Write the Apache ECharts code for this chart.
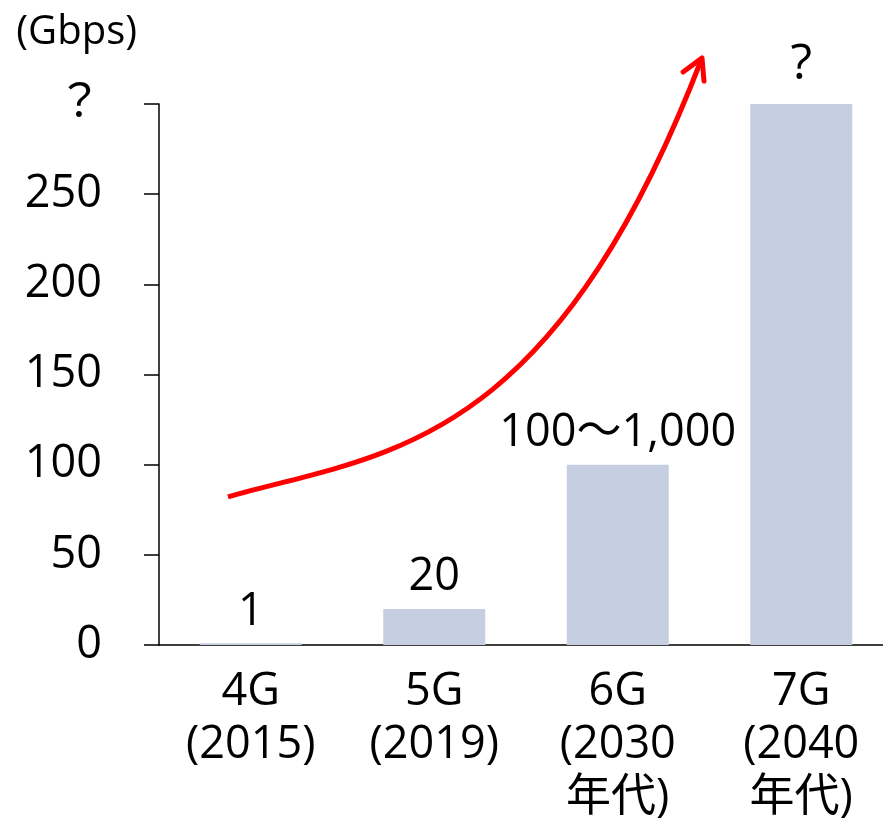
<!DOCTYPE html>
<html>
<head>
<meta charset="utf-8">
<script src="https://cdn.jsdelivr.net/npm/echarts@6/dist/echarts.min.js"></script>
<style>
  html, body { margin: 0; padding: 0; background: #ffffff; }
  #chart { width: 883px; height: 827px; }
</style>
</head>
<body>
<div id="chart"></div>
<script>
// Peak data rate by mobile generation (Gbps)
const categories = ['4G\n(2015)', '5G\n(2019)', '6G\n(2030\n年代)', '7G\n(2040\n年代)'];
const speeds = [1, 20, 100, 300];
const speedLabels = ['1', '20', '100～1,000', '?'];

// Growth trend arrow as a cubic Bézier, in (generation index, Gbps) units:
// start, control 1, control 2, end
const trendX = [0.376, 1.210, 2.125, 2.959];
const trendY = [82.1, 106.7, 104.9, 325.5];
// Arrow head: wing, tip, wing
const headX = [2.856, 2.959, 2.970];
const headY = [317.7, 325.5, 312.7];

const FONT = "'Open Sans', 'Noto Sans CJK JP', sans-serif";
const RED = '#ff0000';
const chart = echarts.init(document.getElementById('chart'), null, { renderer: 'canvas' });

function renderTrend(params, api) {
  const p = trendX.map((x, i) => api.coord([x, trendY[i]]));
  const head = headX.map((x, i) => api.coord([x, headY[i]]));
  return {
    type: 'group',
    children: [
      {
        type: 'bezierCurve',
        shape: {
          x1: p[0][0], y1: p[0][1],
          cpx1: p[1][0], cpy1: p[1][1],
          cpx2: p[2][0], cpy2: p[2][1],
          x2: p[3][0], y2: p[3][1]
        },
        style: { stroke: RED, lineWidth: 5, fill: null, lineCap: 'butt' }
      },
      {
        type: 'polyline',
        shape: { points: head },
        style: { stroke: RED, lineWidth: 5, fill: null, lineCap: 'round', lineJoin: 'round' }
      }
    ]
  };
}

chart.setOption({
  animation: false,
  backgroundColor: '#ffffff',
  grid: {
    left: 159, top: 104, width: 734, height: 541,
    containLabel: false, outerBoundsMode: 'none'
  },
  xAxis: [
    {
      type: 'category',
      data: categories,
      axisLine: { lineStyle: { color: '#000', width: 1.5 } },
      axisTick: { show: false },
      axisLabel: {
        color: '#000', fontFamily: FONT, fontSize: 45, lineHeight: 53,
        margin: 21, interval: 0
      }
    },
    { type: 'value', min: 0, max: 4, show: false }
  ],
  yAxis: [
    {
      type: 'value', min: 0, max: 300, interval: 50,
      name: '(Gbps)', nameLocation: 'end', nameGap: 71,
      nameTextStyle: {
        color: '#000', fontFamily: FONT, fontSize: 40,
        align: 'right', verticalAlign: 'middle', padding: [0, 22, 0, 0]
      },
      axisLine: { show: true, lineStyle: { color: '#000', width: 1.5 } },
      axisTick: { show: true, length: 15, lineStyle: { color: '#000', width: 1.5 } },
      splitLine: { show: false },
      axisLabel: {
        color: '#000', fontFamily: FONT, fontSize: 45, margin: 57,
        formatter: v => (v === 300 ? '？' : String(v))
      }
    },
    { type: 'value', min: 0, max: 300, show: false }
  ],
  series: [
    {
      type: 'bar',
      xAxisIndex: 0, yAxisIndex: 0,
      data: speeds.map((v, i) => i === speeds.length - 1
        ? { value: v, label: { fontSize: 50, distance: 14 } }
        : v),
      barWidth: 102,
      itemStyle: { color: '#c5cfe1' },
      label: {
        show: true, position: 'top', distance: 9,
        color: '#000', fontFamily: FONT, fontSize: 45,
        formatter: p => speedLabels[p.dataIndex]
      }
    },
    {
      type: 'custom',
      coordinateSystem: 'cartesian2d',
      xAxisIndex: 1, yAxisIndex: 1,
      data: [[trendX[0], trendY[0]]],
      clip: false,
      silent: true,
      renderItem: renderTrend
    }
  ]
});
</script>
</body>
</html>
